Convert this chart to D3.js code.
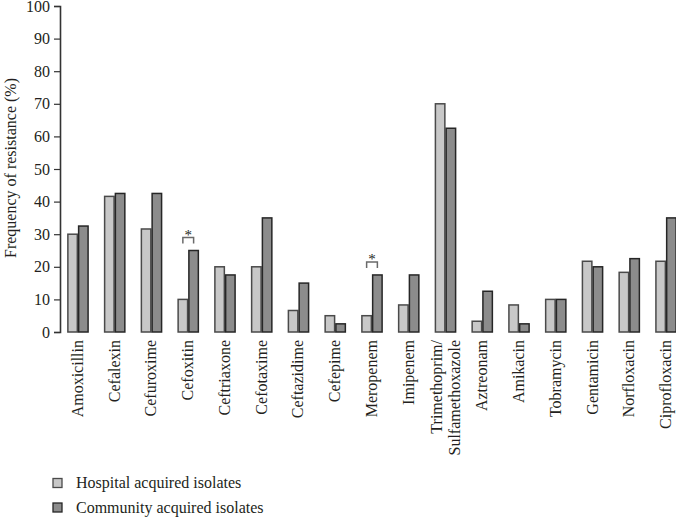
<!DOCTYPE html>
<html>
<head>
<meta charset="utf-8">
<script src="https://cdn.jsdelivr.net/npm/d3@7"></script>
<style>
  html, body { margin: 0; padding: 0; background: #fff; }
  svg { display: block; }
  text { font-family: "Liberation Serif", "Times New Roman", serif; fill: #231f20; }
</style>
</head>
<body>
<svg id="chart" width="676" height="517"></svg>
<script>
const categories = ["Amoxicillin","Cefalexin","Cefuroxime","Cefoxitin","Ceftriaxone","Cefotaxime",
  "Ceftazidime","Cefepime","Meropenem","Imipenem","Trimethoprim/|Sulfamethoxazole","Aztreonam",
  "Amikacin","Tobramycin","Gentamicin","Norfloxacin","Ciprofloxacin"];
const seriesNames = ["Hospital acquired isolates", "Community acquired isolates"];
const hospital  = [30, 41.6, 31.6, 10, 20, 20, 6.6, 5, 5, 8.3, 70, 3.3, 8.3, 10, 21.7, 18.3, 21.7];
const community = [32.5, 42.5, 42.5, 25, 17.5, 35, 15, 2.5, 17.5, 17.5, 62.5, 12.5, 2.5, 10, 20, 22.5, 35];
const significant = ["Cefoxitin", "Meropenem"];
const yTicks = [0,10,20,30,40,50,60,70,80,90,100];
const yMinorTicks = d3.range(0, 101, 2);

const svg = d3.select("#chart");
const fills = ["#c8c8c8", "#8c8c8c"];
const strokes = ["#4a4a4a", "#262626"];

const y = d3.scaleLinear().domain([0, 100]).range([332, 6]);
const x = d3.scaleBand().domain(categories).range([59.6, 684.4]).paddingInner(0.45).paddingOuter(0.225);
const xs = d3.scaleBand().domain([0, 1]).range([0, x.bandwidth()]).paddingInner(0.12);

// y axis
const axisG = svg.append("g").attr("transform", "translate(60,0)");
axisG.call(d3.axisLeft(y).tickValues(yMinorTicks).tickSize(3).tickFormat(""));
axisG.call(d3.axisLeft(y).tickValues(yTicks).tickSize(6).tickPadding(4).tickFormat(d3.format("d")));
axisG.selectAll(".domain").attr("stroke", "#333").attr("stroke-width", 1.6);
axisG.selectAll(".tick line").attr("stroke", "#333").attr("stroke-width", 1.2);
axisG.selectAll(".tick text").style("font-family", "'Liberation Serif', serif").style("font-size", "16px").attr("fill", "#231f20");

// y title
svg.append("text")
  .attr("transform", "translate(16,168) rotate(-90)")
  .attr("text-anchor", "middle")
  .style("font-size", "16px")
  .text("Frequency of resistance (%)");

// bars
const rows = categories.map((c, i) => ({ c, v: [hospital[i], community[i]] }));
const groups = svg.append("g").selectAll("g").data(rows).join("g")
  .attr("transform", d => `translate(${x(d.c)},0)`);
groups.selectAll("rect").data(d => d.v.map((v, k) => ({ v, k }))).join("rect")
  .attr("x", d => xs(d.k))
  .attr("width", xs.bandwidth())
  .attr("y", d => y(d.v))
  .attr("height", d => y(0) - y(d.v))
  .attr("fill", d => fills[d.k])
  .attr("stroke", d => strokes[d.k])
  .attr("stroke-width", 1.5);

// significance brackets
significant.forEach(c => {
  const i = categories.indexOf(c);
  const top = Math.max(hospital[i], community[i]);
  const x1 = x(c) + xs(0) + xs.bandwidth() / 2;
  const x2 = x(c) + xs(1) + xs.bandwidth() / 2;
  const yLeg = y(top) - 7, yTop = y(top) - 13;
  svg.append("path")
    .attr("d", `M${x1},${yLeg}V${yTop}H${x2}V${yLeg}`)
    .attr("fill", "none").attr("stroke", "#6a6a6a").attr("stroke-width", 1.5);
  svg.append("text")
    .attr("x", (x1 + x2) / 2).attr("y", yTop + 2)
    .attr("text-anchor", "middle")
    .style("font-size", "15px").attr("fill", "#555")
    .text("*");
});

// category labels
categories.forEach(c => {
  const lines = c.split("|");
  const cx = x(c) + x.bandwidth() / 2;
  const lh = 18;
  lines.forEach((ln, j) => {
    const bx = cx + 5 + (j - (lines.length - 1) / 2) * lh;
    svg.append("text")
      .attr("transform", `translate(${bx},340) rotate(-90)`)
      .attr("text-anchor", "end")
      .style("font-size", "16px")
      .text(ln);
  });
});

// legend
seriesNames.forEach((s, k) => {
  const cy = 483 + k * 24.5;
  svg.append("rect")
    .attr("x", 53).attr("y", cy - 4.5).attr("width", 9).attr("height", 9)
    .attr("fill", fills[k]).attr("stroke", strokes[k]).attr("stroke-width", 1.3);
  svg.append("text")
    .attr("x", 76).attr("y", cy + 5)
    .style("font-size", "16px")
    .text(s);
});
</script>
</body>
</html>
